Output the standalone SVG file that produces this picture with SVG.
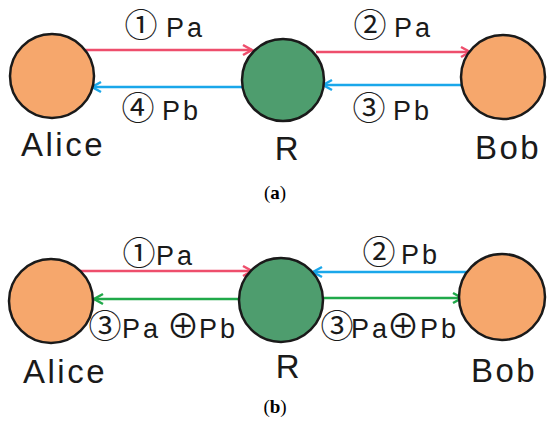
<svg xmlns="http://www.w3.org/2000/svg" width="550" height="432" viewBox="0 0 550 432">
<style>
.node{stroke:#1a1a1a;stroke-width:2.5}
.o{fill:#F6A76C}
.g{fill:#4E9D6E}
.lbl{font-family:"Liberation Sans","Noto Sans CJK SC",sans-serif;font-size:27px;fill:#1a1a1a;letter-spacing:3px}
.num{font-family:"Noto Sans CJK SC",sans-serif;font-size:33px;fill:#1a1a1a;text-anchor:middle}
.name{font-family:"Liberation Sans",sans-serif;font-size:33px;fill:#1a1a1a;letter-spacing:2.5px;text-anchor:middle}
.cap{font-family:"Liberation Serif",serif;font-size:19px;fill:#000;text-anchor:middle}
.pk{stroke:#EE4E6C;stroke-width:2.5;fill:none}
.bl{stroke:#1AA7EA;stroke-width:2.5;fill:none}
.gr{stroke:#20A94A;stroke-width:2.5;fill:none}
</style>
<defs>
<marker id="ap" markerUnits="userSpaceOnUse" markerWidth="14" markerHeight="14" refX="10" refY="6" orient="auto" viewBox="0 0 14 12"><path d="M1,1 L10,6 L1,11" fill="none" stroke="#EE4E6C" stroke-width="2.5"/></marker>
<marker id="ab" markerUnits="userSpaceOnUse" markerWidth="14" markerHeight="14" refX="10" refY="6" orient="auto" viewBox="0 0 14 12"><path d="M1,1 L10,6 L1,11" fill="none" stroke="#1AA7EA" stroke-width="2.5"/></marker>
<marker id="ag" markerUnits="userSpaceOnUse" markerWidth="14" markerHeight="14" refX="10" refY="6" orient="auto" viewBox="0 0 14 12"><path d="M1,1 L10,6 L1,11" fill="none" stroke="#20A94A" stroke-width="2.5"/></marker>
</defs>
<g id="connectors">
<line class="pk" x1="84" y1="50" x2="252" y2="50" marker-end="url(#ap)"/>
<line class="bl" x1="243" y1="87" x2="92" y2="87" marker-end="url(#ab)"/>
<line class="pk" x1="316" y1="52" x2="470" y2="52" marker-end="url(#ap)"/>
<line class="bl" x1="462" y1="85" x2="323" y2="85" marker-end="url(#ab)"/>
<line class="pk" x1="80" y1="271" x2="252" y2="271" marker-end="url(#ap)"/>
<line class="gr" x1="240" y1="299" x2="94" y2="299" marker-end="url(#ag)"/>
<line class="bl" x1="468" y1="272" x2="313" y2="272" marker-end="url(#ab)"/>
<line class="gr" x1="323" y1="298" x2="462" y2="298" marker-end="url(#ag)"/>
</g>
<g id="alice-a"><circle class="node o" cx="52" cy="76" r="42"/><text class="name" x="63" y="156">Alice</text></g>
<g id="r-a"><circle class="node g" cx="283" cy="80" r="41"/><text class="name" x="288" y="160">R</text></g>
<g id="bob-a"><circle class="node o" cx="503" cy="77" r="42"/><text class="name" x="508" y="159">Bob</text></g>
<g id="labels-a">
<text class="num" x="141" y="37">①</text><text class="lbl" x="166" y="37">Pa</text>
<text class="num" x="138" y="120">④</text><text class="lbl" x="162" y="120">Pb</text>
<text class="num" x="370" y="37">②</text><text class="lbl" x="394" y="37">Pa</text>
<text class="num" x="369" y="120">③</text><text class="lbl" x="393" y="120">Pb</text>
</g>
<text class="cap" x="275" y="199">(<tspan font-weight="bold">a</tspan>)</text>
<g id="alice-b"><circle class="node o" cx="51" cy="301" r="42"/><text class="name" x="65" y="383">Alice</text></g>
<g id="r-b"><circle class="node g" cx="281" cy="300" r="42"/><text class="name" x="289" y="378">R</text></g>
<g id="bob-b"><circle class="node o" cx="502" cy="297" r="43"/><text class="name" x="504" y="382">Bob</text></g>
<g id="labels-b">
<text class="num" x="139" y="265">①</text><text class="lbl" x="156" y="265">Pa</text>
<text class="num" x="105" y="338">③</text><text class="lbl" x="122" y="338">Pa</text><text class="num" x="183" y="338">⊕</text><text class="lbl" x="199" y="338">Pb</text>
<text class="num" x="379" y="264">②</text><text class="lbl" x="401" y="264">Pb</text>
<text class="num" x="337" y="338">③</text><text class="lbl" x="351" y="338" letter-spacing="1">Pa</text><text class="num" x="403" y="338">⊕</text><text class="lbl" x="420" y="338">Pb</text>
</g>
<text class="cap" x="275" y="413">(<tspan font-weight="bold">b</tspan>)</text>
</svg>
